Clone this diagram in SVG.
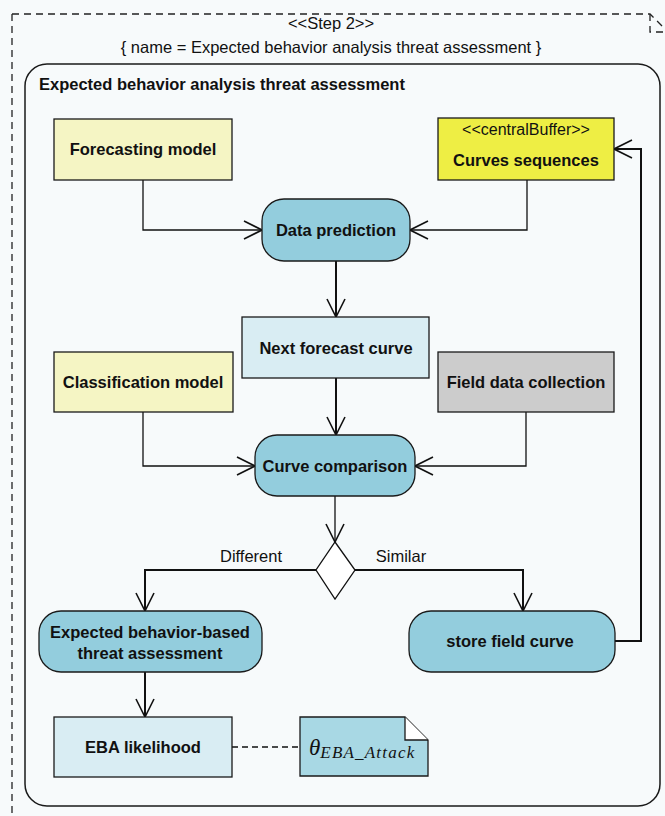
<svg xmlns="http://www.w3.org/2000/svg" width="665" height="816" viewBox="0 0 665 816">
  <defs>
    <style>
      .lbl { font-family: "Liberation Sans", Arial, sans-serif; font-size: 16.5px; font-weight: bold; fill: #111; text-anchor: middle; }
      .reg { font-family: "Liberation Sans", Arial, sans-serif; font-size: 16.5px; fill: #111; text-anchor: middle; }
      .box { stroke: #1a1a1a; stroke-width: 1.3; }
      .act { fill: #93cddd; stroke: #1a1a1a; stroke-width: 1.3; }
      .thin { fill: none; stroke: #111; stroke-width: 1.3; }
      .thick { fill: none; stroke: #111; stroke-width: 2; }
      .math { font-family: "Liberation Serif", "Times New Roman", serif; font-style: italic; fill: #111; }
    </style>
    <marker id="open" viewBox="0 0 20 20" refX="19" refY="10" markerWidth="20" markerHeight="20" markerUnits="userSpaceOnUse" orient="auto">
      <path d="M1,1 L19,10 L1,19" fill="none" stroke="#111" stroke-width="1.6"/>
    </marker>
  </defs>

  <rect x="0" y="0" width="665" height="816" fill="#f7fafb"/>

  <!-- outer step frame -->
  <g id="step-frame">
    <path d="M12,14 L650,14 L668,32 L668,830 M12,14 L12,816" fill="none" stroke="#222" stroke-width="1.3" stroke-dasharray="7,5"/>
    <path d="M650,14 L650,32 L668,32" fill="none" stroke="#222" stroke-width="1.3" stroke-dasharray="7,5"/>
    <text class="reg" x="331" y="29">&lt;&lt;Step 2&gt;&gt;</text>
    <text class="reg" x="331" y="53">{ name = Expected behavior analysis threat assessment }</text>
  </g>

  <!-- activity frame -->
  <g id="activity">
    <rect x="25" y="64" width="635" height="742" rx="22" fill="#f7fafb" stroke="#1a1a1a" stroke-width="1.5"/>
    <text class="lbl" x="39" y="90" style="text-anchor:start">Expected behavior analysis threat assessment</text>
  </g>

  <!-- connectors -->
  <g id="connectors">
    <path class="thin" d="M143,180 V230 H262" marker-end="url(#open)"/>
    <path class="thin" d="M527,180 V230 H410" marker-end="url(#open)"/>
    <path class="thick" d="M336,261 V317" marker-end="url(#open)"/>
    <path class="thick" d="M336,378 V435" marker-end="url(#open)"/>
    <path class="thin" d="M143,412 V466 H255" marker-end="url(#open)"/>
    <path class="thin" d="M526,412 V466 H415" marker-end="url(#open)"/>
    <path class="thin" d="M335,496 V542" marker-end="url(#open)"/>
    <path class="thick" d="M316,570 H145 V611" marker-end="url(#open)"/>
    <path class="thick" d="M355,570 H523 V611" marker-end="url(#open)"/>
    <path class="thick" d="M145,672 V717" marker-end="url(#open)"/>
    <path class="thick" d="M615,641 H641 V149 H614" marker-end="url(#open)"/>
    <path d="M232,747 H300" fill="none" stroke="#111" stroke-width="1.6" stroke-dasharray="6,4"/>
    <text class="reg" x="251" y="562">Different</text>
    <text class="reg" x="401" y="562">Similar</text>
  </g>

  <g id="forecasting-model">
    <rect class="box" x="54" y="119" width="178" height="61" fill="#f5f5c4"/>
    <text class="lbl" x="143" y="155">Forecasting model</text>
  </g>

  <g id="curves-sequences">
    <rect class="box" x="438" y="118" width="176" height="62" fill="#eeee44"/>
    <text class="reg" x="526" y="135" style="font-size:16px">&lt;&lt;centralBuffer&gt;&gt;</text>
    <text class="lbl" x="526" y="166">Curves sequences</text>
  </g>

  <g id="data-prediction">
    <rect class="act" x="262" y="199" width="148" height="62" rx="22"/>
    <text class="lbl" x="336" y="236">Data prediction</text>
  </g>

  <g id="next-forecast-curve">
    <rect class="box" x="242" y="317" width="187" height="61" fill="#d9edf3"/>
    <text class="lbl" x="336" y="354">Next forecast curve</text>
  </g>

  <g id="classification-model">
    <rect class="box" x="54" y="352" width="179" height="60" fill="#f5f5c4"/>
    <text class="lbl" x="143" y="388">Classification model</text>
  </g>

  <g id="field-data-collection">
    <rect class="box" x="438" y="352" width="176" height="60" fill="#cccccc"/>
    <text class="lbl" x="526" y="388">Field data collection</text>
  </g>

  <g id="curve-comparison">
    <rect class="act" x="255" y="435" width="160" height="61" rx="22"/>
    <text class="lbl" x="335" y="472">Curve comparison</text>
  </g>

  <g id="decision">
    <path d="M335,542 L355,570 L335,599 L316,570 Z" fill="#ffffff" stroke="#111" stroke-width="1.3"/>
  </g>

  <g id="expected-behavior-assessment">
    <rect class="act" x="39" y="611" width="223" height="61" rx="22"/>
    <text class="lbl" x="150" y="638">Expected behavior-based</text>
    <text class="lbl" x="150" y="659">threat assessment</text>
  </g>

  <g id="store-field-curve">
    <rect class="act" x="409" y="611" width="206" height="61" rx="22"/>
    <text class="lbl" x="510" y="647">store field curve</text>
  </g>

  <g id="eba-likelihood">
    <rect class="box" x="54" y="717" width="178" height="60" fill="#d9edf3"/>
    <text class="lbl" x="143" y="753">EBA likelihood</text>
  </g>

  <g id="attack-note">
    <path d="M300,717 H405 L428,740 V776 H300 Z" fill="#a8d8e4" stroke="#1a1a1a" stroke-width="1.3"/>
    <path d="M405,717 V740 H428" fill="#ffffff" stroke="#1a1a1a" stroke-width="1.3"/>
    <text class="math" x="309" y="755" style="font-size:23px">θ<tspan dy="3" style="font-size:17px;letter-spacing:1.2px">EBA_Attack</tspan></text>
  </g>
</svg>
